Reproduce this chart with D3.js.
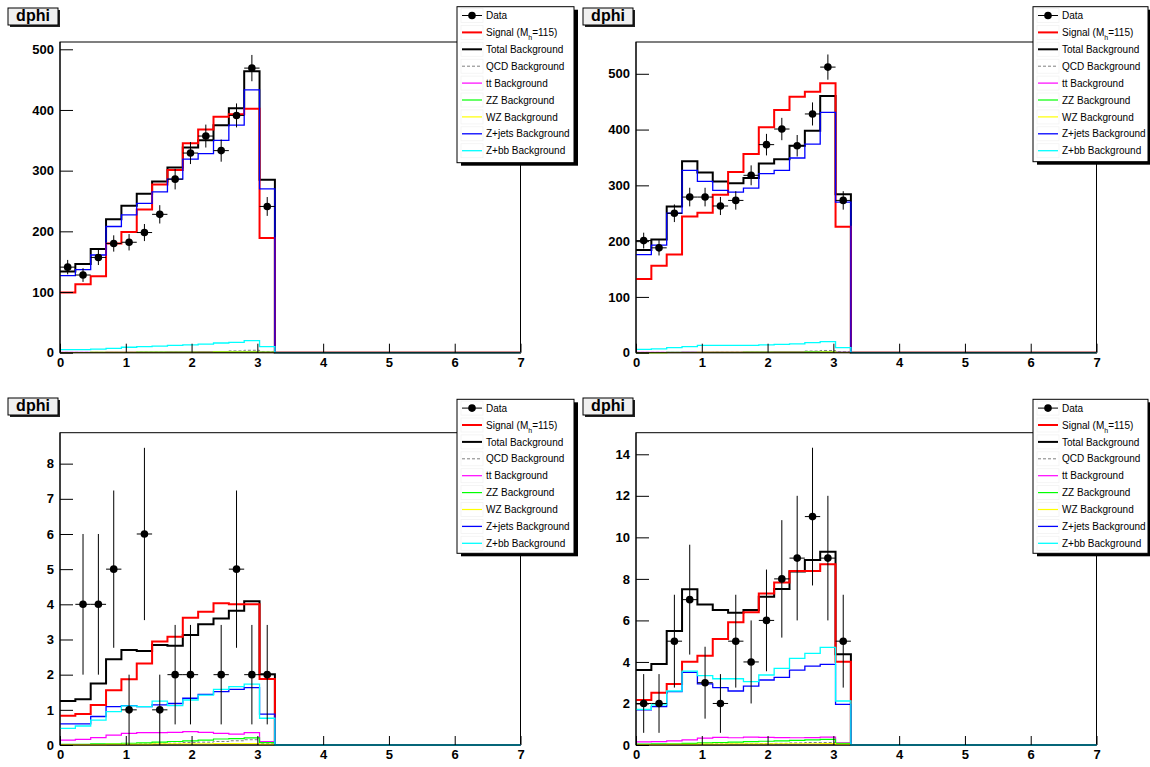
<!DOCTYPE html>
<html><head><meta charset="utf-8">
<script src="https://cdn.jsdelivr.net/npm/d3@7"></script>
<style>
body{margin:0;background:#fff}
svg{display:block;font-family:"Liberation Sans",Arial,Helvetica,sans-serif}
</style>
</head><body>
<svg id="c" width="1150" height="767"></svg>
<script>
// ---------- shared ----------
const X_MIN = 0, X_MAX = 7, N_BINS = 30;
const titleText = "dphi";
const xTicks = [0, 1, 2, 3, 4, 5, 6, 7];
const legendKeys = ["data", "signal", "total", "qcd", "tt", "zz", "wz", "zjets", "zbb"];
const legendLabels = ["Data", "Signal (M_h=115)", "Total Background", "QCD Background", "tt Background",
  "ZZ Background", "WZ Background", "Z+jets Background", "Z+bb Background"];

// ---------- top-left ----------
const tlData   = [141,128,157,180,182,198,228,286,329,357,333,391,469,241];
const tlSignal = [99,113,126,180,199,236,277,301,345,368,389,393,402,189];
const tlTotal  = [134,146,171,220,242,262,282,305,338,350,375,403,464,285];
const tlQcd    = [0.5,0.5,0.5,0.5,0.5,1,1,1,1,1,2,3,4,2];
const tlTt     = [0.5,0.5,0.5,1,1,1,1,1.5,1.5,2,2,2,2,1];
const tlZz     = [0.3,0.3,0.5,0.5,0.5,0.8,0.8,1,1,1,1.2,1.5,1.5,0.8];
const tlWz     = [0.3,0.3,0.4,0.4,0.5,0.5,0.6,0.6,0.7,0.7,0.8,0.8,0.9,0.4];
const tlZjets  = [127,137,161,208,227,246,265,286,319,328,350,375,433,270];
const tlZbb    = [5,5,6,7,9,10,11,12,13,14,16,17,20,10];
const tlYTicks = [0,100,200,300,400,500];

// ---------- top-right ----------
const trData   = [201,188,250,279,279,263,273,318,373,401,371,428,512,273];
const trSignal = [132,156,176,244,251,283,324,356,404,435,459,468,483,226];
const trTotal  = [184,203,262,343,323,307,304,313,339,347,371,398,460,284];
const trQcd    = [0.5,0.5,0.5,0.5,0.5,1,1,1,1,1,2,3,4,2];
const trTt     = [0.5,0.5,0.5,1,1,1,1,1.5,1.5,2,2,2,2,1];
const trZz     = [0.3,0.3,0.5,0.5,0.5,0.8,0.8,1,1,1,1.2,1.5,1.5,0.8];
const trWz     = [0.3,0.3,0.4,0.4,0.5,0.5,0.6,0.6,0.7,0.7,0.8,0.8,0.9,0.4];
const trZjets  = [176,193,250,327,307,291,288,295,321,327,349,374,431,270];
const trZbb    = [6,7,9,11,13,13,13,13,14,15,16,18,20,9];
const trYTicks = [0,100,200,300,400,500];

// ---------- bottom-left ----------
const blData   = [0,4,4,5,1,6,1,2,2,0,2,5,2,2];
const blSignal = [0.83,0.88,1.14,1.56,1.87,2.32,2.94,3.08,3.62,3.79,4.03,4.00,4.00,1.88];
const blTotal  = [1.25,1.30,1.75,2.44,2.70,2.67,2.84,2.82,3.13,3.43,3.60,3.82,4.09,2.01];
const blQcd    = [0,0,0,0,0.02,0.03,0.05,0.05,0.07,0.08,0.10,0.12,0.15,0.05];
const blTt     = [0.14,0.16,0.21,0.28,0.33,0.35,0.35,0.36,0.38,0.36,0.33,0.31,0.35,0.10];
const blZz     = [0.02,0.02,0.03,0.03,0.05,0.06,0.08,0.10,0.12,0.14,0.17,0.18,0.20,0.07];
const blWz     = [0.01,0.01,0.01,0.02,0.02,0.02,0.03,0.03,0.03,0.03,0.04,0.04,0.04,0.02];
const blZjets  = [0.60,0.60,0.81,1.09,1.12,1.09,1.14,1.18,1.33,1.44,1.52,1.58,1.63,0.88];
const blZbb    = [0.47,0.54,0.71,0.95,1.11,1.09,1.25,1.12,1.28,1.42,1.58,1.66,1.73,0.76];
const blYTicks = [0,1,2,3,4,5,6,7,8];

// ---------- bottom-right ----------
const brData   = [2,2,5,7,3,2,5,4,6,8,9,11,9,5];
const brSignal = [2.17,2.52,2.94,4.01,4.30,5.10,5.91,6.39,7.30,7.82,8.38,8.38,8.70,4.01];
const brTotal  = [3.61,3.90,5.49,7.50,6.77,6.50,6.37,6.50,7.14,7.51,8.35,8.91,9.31,4.37];
const brQcd    = [0.01,0.01,0.02,0.03,0.04,0.05,0.05,0.06,0.07,0.08,0.10,0.12,0.12,0.05];
const brTt     = [0.15,0.16,0.20,0.25,0.33,0.37,0.35,0.38,0.37,0.36,0.35,0.36,0.38,0.10];
const brZz     = [0.04,0.05,0.06,0.08,0.10,0.12,0.14,0.16,0.18,0.20,0.22,0.25,0.27,0.08];
const brWz     = [0.02,0.02,0.03,0.03,0.04,0.04,0.05,0.05,0.05,0.06,0.06,0.06,0.07,0.03];
const brZjets  = [1.69,1.85,2.57,3.50,2.94,2.76,2.60,2.84,3.13,3.26,3.61,3.80,3.88,1.96];
const brZbb    = [1.72,1.93,2.60,3.56,3.34,3.19,3.19,3.05,3.37,3.69,4.17,4.41,4.70,2.12];
const brYTicks = [0,2,4,6,8,10,12,14];

// ---------- styles ----------
const styles = {
  signal: {color:"#ff0000", width:2},
  total:  {color:"#000000", width:2},
  qcd:    {color:"#808080", width:1, dash:"3,2"},
  tt:     {color:"#ff00ff", width:1.2},
  zz:     {color:"#00ff00", width:1.2},
  wz:     {color:"#ffff00", width:1.2},
  zjets:  {color:"#0000ff", width:1.3},
  zbb:    {color:"#00ffff", width:1.3}
};
const drawOrder = ["total","signal","qcd","tt","zz","wz","zjets","zbb"];

const panels = [
  {frame:[60,42,520.5,352.7], yMax:512, minor:20, ticks:tlYTicks, title:[8,8], legend:[457,6.7,117,156],
   h:{data:tlData,signal:tlSignal,total:tlTotal,qcd:tlQcd,tt:tlTt,zz:tlZz,wz:tlWz,zjets:tlZjets,zbb:tlZbb}},
  {frame:[636,42,1096.5,352.7], yMax:557, minor:20, ticks:trYTicks, title:[583,8], legend:[1033,6.7,115,155],
   h:{data:trData,signal:trSignal,total:trTotal,qcd:trQcd,tt:trTt,zz:trZz,wz:trWz,zjets:trZjets,zbb:trZbb}},
  {frame:[60,432.7,520.5,745], yMax:8.88, minor:0.2, ticks:blYTicks, title:[8,398], legend:[457,399.3,117,154],
   h:{data:blData,signal:blSignal,total:blTotal,qcd:blQcd,tt:blTt,zz:blZz,wz:blWz,zjets:blZjets,zbb:blZbb}},
  {frame:[636,432.7,1096.5,745], yMax:15.04, minor:0.5, ticks:brYTicks, title:[583,398], legend:[1033,399.3,115,154],
   h:{data:brData,signal:brSignal,total:brTotal,qcd:brQcd,tt:brTt,zz:brZz,wz:brWz,zjets:brZjets,zbb:brZbb}}
];

const svg = d3.select("#c");
const binW = (X_MAX - X_MIN) / N_BINS;
const pad = arr => d3.range(N_BINS).map(i => i < arr.length ? arr[i] : 0);

panels.forEach(p => {
  const [fx0, fy0, fx1, fy1] = p.frame;
  const x = d3.scaleLinear().domain([X_MIN, X_MAX]).range([fx0, fx1]);
  const y = d3.scaleLinear().domain([0, p.yMax]).range([fy1, fy0]);
  const g = svg.append("g");

  // frame
  g.append("rect").attr("x", fx0).attr("y", fy0).attr("width", fx1 - fx0).attr("height", fy1 - fy0)
    .attr("fill", "#fff").attr("stroke", "#000").attr("stroke-width", 1);

  // histograms
  const line = d3.line().x(d => x(d[0])).y(d => y(d[1]));
  drawOrder.forEach(k => {
    const v = pad(p.h[k]);
    const pts = [];
    v.forEach((val, i) => { pts.push([X_MIN + i * binW, val]); pts.push([X_MIN + (i + 1) * binW, val]); });
    const s = styles[k];
    g.append("path").attr("d", line(pts)).attr("fill", "none").attr("stroke", s.color)
      .attr("stroke-width", s.width).attr("stroke-dasharray", s.dash || null);
  });

  // axes
  const minorVals = d3.range(0, p.yMax + 1e-9, p.minor);
  const ya = g.append("g").attr("transform", `translate(${fx0},0)`);
  ya.call(d3.axisLeft(y).tickValues(minorVals).tickSize(-6.5).tickFormat(""));
  ya.call(d3.axisLeft(y).tickValues(p.ticks).tickSize(-13).tickPadding(6).tickFormat(d3.format("d")));
  const xMinor = d3.range(0, X_MAX + 1e-9, 0.2);
  const xa = g.append("g").attr("transform", `translate(0,${fy1})`);
  xa.call(d3.axisBottom(x).tickValues(xMinor).tickSize(-4.5).tickFormat(""));
  xa.call(d3.axisBottom(x).tickValues(xTicks).tickSize(-9).tickPadding(5).tickFormat(d3.format("d")));
  [ya, xa].forEach(a => {
    a.selectAll(".domain").remove();
    a.attr("color", "#000").attr("font-size", 13).attr("font-weight", "bold")
     .attr("font-family", '"Liberation Sans",Arial,sans-serif');
  });
  g.append("line").attr("x1", fx0).attr("x2", fx1).attr("y1", fy1).attr("y2", fy1).attr("stroke", "#000");
  g.append("line").attr("x1", fx0).attr("x2", fx0).attr("y1", fy0).attr("y2", fy1).attr("stroke", "#000");

  // data points
  const dg = g.append("g");
  pad(p.h.data).forEach((n, i) => {
    if (n <= 0) return;
    const cx = X_MIN + (i + 0.5) * binW, e = Math.sqrt(n);
    dg.append("line").attr("x1", x(cx)).attr("x2", x(cx)).attr("y1", y(Math.max(0, n - e))).attr("y2", y(n + e))
      .attr("stroke", "#000").attr("stroke-width", 1);
    dg.append("line").attr("x1", x(cx - binW / 2)).attr("x2", x(cx + binW / 2)).attr("y1", y(n)).attr("y2", y(n))
      .attr("stroke", "#000").attr("stroke-width", 1);
    dg.append("circle").attr("cx", x(cx)).attr("cy", y(n)).attr("r", 3.8).attr("fill", "#000");
  });

  // title box
  const [tx, ty] = p.title;
  g.append("rect").attr("x", tx + 2).attr("y", ty + 2).attr("width", 50).attr("height", 17).attr("fill", "#222");
  g.append("rect").attr("x", tx).attr("y", ty).attr("width", 50).attr("height", 17)
    .attr("fill", "#f0f0f0").attr("stroke", "#000").attr("stroke-width", 1);
  g.append("text").attr("x", tx + 25).attr("y", ty + 13).attr("text-anchor", "middle")
    .attr("font-size", 16).attr("font-weight", "bold").text(titleText);

  // legend
  const [lx, ly, lw, lh] = p.legend;
  g.append("rect").attr("x", lx + 4).attr("y", ly + 3).attr("width", lw).attr("height", lh).attr("fill", "#000");
  g.append("rect").attr("x", lx).attr("y", ly).attr("width", lw).attr("height", lh)
    .attr("fill", "#fff").attr("stroke", "#000").attr("stroke-width", 1);
  legendKeys.forEach((k, i) => {
    const cy = ly + 8.8 + i * 16.9;
    const sx0 = lx + 5, sx1 = lx + 25;
    g.append("rect").attr("x", sx0 - 1).attr("y", cy - 7).attr("width", 22).attr("height", 14)
      .attr("fill", "#fff").attr("stroke", "#f2f2f2").attr("stroke-width", 0.8);
    if (k === "data") {
      g.append("line").attr("x1", sx0).attr("x2", sx1).attr("y1", cy).attr("y2", cy).attr("stroke", "#000");
      g.append("circle").attr("cx", (sx0 + sx1) / 2).attr("cy", cy).attr("r", 3.8).attr("fill", "#000");
    } else {
      const s = styles[k];
      g.append("line").attr("x1", sx0).attr("x2", sx1).attr("y1", cy).attr("y2", cy).attr("stroke", s.color)
        .attr("stroke-width", s.width).attr("stroke-dasharray", s.dash || null);
    }
    const t = g.append("text").attr("x", lx + 29).attr("y", cy + 3.6).attr("font-size", 10).attr("fill", "#000");
    const lab = legendLabels[i];
    if (lab.includes("_")) {
      const [a, rest] = lab.split("_");
      t.append("tspan").text(a);
      t.append("tspan").attr("dy", 4).attr("font-size", 7).text(rest[0]);
      t.append("tspan").attr("dy", -4).text(rest.slice(1));
    } else t.text(lab);
  });
});
</script>
</body></html>
